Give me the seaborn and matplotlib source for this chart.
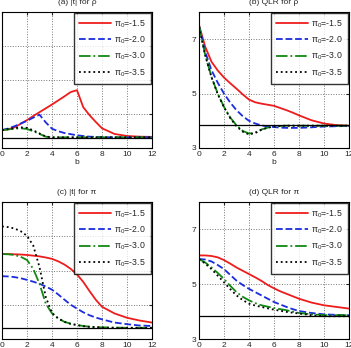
import matplotlib
matplotlib.use('Agg')
import matplotlib.pyplot as plt
import seaborn as sns
import pandas as pd

b = [0, 0.5, 1, 1.5, 2, 2.5, 3, 3.5, 4, 4.5, 5, 5.5, 6, 6.5, 7, 7.5, 8, 9, 10, 11, 12]
pi0_labels = ['π$_0$=-1.5', 'π$_0$=-2.0', 'π$_0$=-3.0', 'π$_0$=-3.5']

# (a) |t| for rho
t_rho_15 = [2.29, 2.33, 2.41, 2.57, 2.73, 2.91, 3.08, 3.25, 3.42, 3.6, 3.78, 3.97, 4.05, 3.3, 2.95, 2.65, 2.37, 2.12, 2.03, 2.0, 1.99]
t_rho_20 = [2.29, 2.36, 2.46, 2.58, 2.7, 2.84, 2.97, 2.63, 2.35, 2.24, 2.16, 2.11, 2.06, 2.03, 2.0, 1.99, 1.98, 1.97, 1.97, 1.97, 1.97]
t_rho_30 = [2.29, 2.32, 2.35, 2.37, 2.34, 2.24, 2.12, 2.0, 1.97, 1.97, 1.97, 1.97, 1.97, 1.97, 1.97, 1.97, 1.97, 1.97, 1.97, 1.97, 1.97]
t_rho_35 = [2.29, 2.33, 2.38, 2.41, 2.39, 2.28, 2.14, 2.01, 1.97, 1.97, 1.97, 1.97, 1.97, 1.97, 1.97, 1.97, 1.97, 1.97, 1.97, 1.97, 1.97]

# (b) QLR for rho
qlr_rho_15 = [7.52, 6.72, 6.17, 5.85, 5.59, 5.38, 5.18, 4.97, 4.78, 4.68, 4.63, 4.59, 4.55, 4.47, 4.39, 4.3, 4.2, 4.02, 3.9, 3.84, 3.82]
qlr_rho_20 = [7.5, 6.53, 5.86, 5.4, 5.0, 4.67, 4.39, 4.17, 4.0, 3.9, 3.83, 3.79, 3.77, 3.75, 3.74, 3.74, 3.74, 3.76, 3.79, 3.8, 3.81]
qlr_rho_30 = [7.5, 6.41, 5.61, 5.0, 4.51, 4.12, 3.83, 3.63, 3.53, 3.57, 3.68, 3.75, 3.79, 3.81, 3.82, 3.82, 3.82, 3.82, 3.82, 3.82, 3.82]
qlr_rho_35 = [7.45, 6.4, 5.6, 4.98, 4.5, 4.1, 3.8, 3.6, 3.5, 3.55, 3.67, 3.75, 3.79, 3.81, 3.82, 3.82, 3.82, 3.82, 3.82, 3.82, 3.82]

# (c) |t| for pi
t_pi_15 = [5.22, 5.22, 5.21, 5.2, 5.18, 5.15, 5.12, 5.07, 5.01, 4.9, 4.76, 4.57, 4.33, 4.0, 3.6, 3.22, 2.91, 2.62, 2.43, 2.31, 2.22]
t_pi_20 = [4.25, 4.24, 4.21, 4.16, 4.09, 4.01, 3.92, 3.8, 3.66, 3.45, 3.22, 3.0, 2.83, 2.67, 2.54, 2.44, 2.36, 2.22, 2.15, 2.09, 2.07]
t_pi_30 = [5.22, 5.21, 5.18, 5.1, 4.96, 4.57, 3.92, 3.05, 2.62, 2.4, 2.25, 2.17, 2.11, 2.07, 2.04, 2.02, 2.01, 2.0, 1.99, 1.99, 1.99]
t_pi_35 = [6.43, 6.4, 6.34, 6.22, 6.02, 5.59, 4.65, 3.34, 2.64, 2.4, 2.25, 2.16, 2.11, 2.06, 2.03, 2.02, 2.0, 1.99, 1.99, 1.99, 1.99]

# (d) QLR for pi
qlr_pi_15 = [6.05, 6.05, 6.03, 5.98, 5.88, 5.75, 5.61, 5.49, 5.37, 5.25, 5.12, 4.97, 4.85, 4.74, 4.65, 4.56, 4.47, 4.33, 4.23, 4.17, 4.11]
qlr_pi_20 = [5.92, 5.9, 5.83, 5.7, 5.55, 5.34, 5.13, 4.97, 4.83, 4.71, 4.59, 4.47, 4.35, 4.26, 4.17, 4.09, 4.02, 3.95, 3.9, 3.88, 3.87]
qlr_pi_30 = [5.92, 5.79, 5.61, 5.41, 5.19, 4.94, 4.71, 4.54, 4.41, 4.31, 4.23, 4.18, 4.13, 4.09, 4.05, 4.0, 3.95, 3.9, 3.87, 3.87, 3.87]
qlr_pi_35 = [5.92, 5.75, 5.55, 5.31, 5.07, 4.82, 4.59, 4.42, 4.29, 4.22, 4.17, 4.12, 4.07, 4.03, 3.99, 3.96, 3.93, 3.87, 3.83, 3.83, 3.83]

sns.set_style('white')
plt.rcParams['font.family'] = ['Liberation Sans', 'DejaVu Sans']
plt.rcParams['mathtext.fontset'] = 'custom'
plt.rcParams['mathtext.rm'] = 'Liberation Sans'
plt.rcParams['mathtext.it'] = 'Liberation Sans'

fig = plt.figure(figsize=(3.51, 3.48), dpi=100)
W, H = 351, 348


def make_ax(x0, y0, x1, y1):
    return fig.add_axes([x0 / W, 1 - y1 / H, (x1 - x0) / W, (y1 - y0) / H])


styles = [('#ee1c1c', '-'), ('#1a2cdd', '--'), ('#118811', '-.'), ('black', ':')]

panels = [
    (make_ax(2, 12, 152, 148), '(a) |t| for ρ', [t_rho_15, t_rho_20, t_rho_30, t_rho_35], 1.96, (1.5, 7.5), [1.5, 3, 4.5, 6, 7.5], True, False),
    (make_ax(199, 12, 349, 148), '(b) QLR for ρ', [qlr_rho_15, qlr_rho_20, qlr_rho_30, qlr_rho_35], 3.84, (3, 8), [3, 5, 7], True, True),
    (make_ax(2, 202, 152, 339), '(c) |t| for π', [t_pi_15, t_pi_20, t_pi_30, t_pi_35], 1.96, (1.5, 7.5), [1.5, 3, 4.5, 6, 7.5], False, False),
    (make_ax(199, 202, 349, 339), '(d) QLR for π', [qlr_pi_15, qlr_pi_20, qlr_pi_30, qlr_pi_35], 3.84, (3, 8), [3, 5, 7], False, True),
]

for ax, title, series, crit, ylim, yticks, xlab, ylabels in panels:
    for vals, lab, (col, ls) in zip(series, pi0_labels, styles):
        df = pd.DataFrame({'b': b, 'v': vals})
        sns.lineplot(data=df, x='b', y='v', ax=ax, color=col, linestyle=ls,
                     linewidth=1.3, label=lab)
    ax.axhline(crit, color='black', linewidth=0.9)
    ax.set_xlim(0, 12)
    ax.set_ylim(*ylim)
    ax.set_xticks([0, 2, 4, 6, 8, 10, 12])
    ax.set_yticks(yticks)
    ax.grid(True, linestyle=':', color='#777777', linewidth=0.7)
    ax.tick_params(direction='in', top=True, right=True, labelsize=6, length=2, pad=2,
                   labelleft=ylabels)
    for s in ax.spines.values():
        s.set_color('black')
        s.set_linewidth(0.8)
    ax.set_title(title, fontsize=6, pad=6)
    ax.set_xlabel('b' if xlab else '', fontsize=6, labelpad=1)
    ax.set_ylabel('')
    leg = ax.legend(loc='upper right', fontsize=6.3, handlelength=3.6, handletextpad=0.4,
                    labelspacing=0.55, borderpad=0.6, frameon=True, fancybox=False,
                    borderaxespad=0.1)
    leg.get_frame().set_edgecolor('black')
    leg.get_frame().set_linewidth(1.0)

fig.savefig('out.png', dpi=100)
